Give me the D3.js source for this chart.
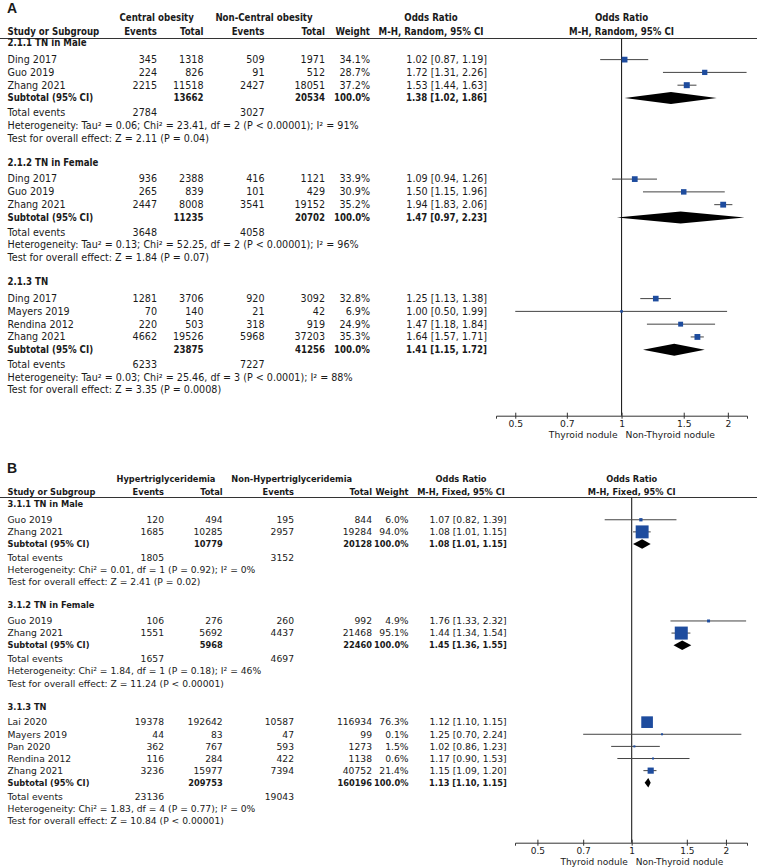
<!DOCTYPE html>
<html><head><meta charset="utf-8">
<script src="https://cdn.jsdelivr.net/npm/d3@7"></script>
<style>
body{margin:0;background:#fff}
svg text{font-family:"DejaVu Sans",sans-serif;fill:#1a1a1a}
svg text.b{font-family:"DejaVu Sans Condensed","DejaVu Sans",sans-serif;font-weight:bold}
</style>
</head><body>
<svg id="chart" width="757" height="867"></svg>
<script>
// ---------------- DATA ----------------
const tickValues = [0.5, 0.7, 1, 1.5, 2];
const directionLabels = ["Thyroid nodule", "Non-Thyroid nodule"];

// Panel A: Central obesity vs Non-Central obesity (M-H, Random)
const A_groupNames = ["2.1.1 TN in Male", "2.1.2 TN in Female", "2.1.3 TN"];
// [study, events1, total1, events2, total2, weight, OR, lower, upper]
const A_male = [
  ["Ding 2017", 345, 1318, 509, 1971, 34.1, 1.02, 0.87, 1.19],
  ["Guo 2019", 224, 826, 91, 512, 28.7, 1.72, 1.31, 2.26],
  ["Zhang 2021", 2215, 11518, 2427, 18051, 37.2, 1.53, 1.44, 1.63]
];
const A_female = [
  ["Ding 2017", 936, 2388, 416, 1121, 33.9, 1.09, 0.94, 1.26],
  ["Guo 2019", 265, 839, 101, 429, 30.9, 1.50, 1.15, 1.96],
  ["Zhang 2021", 2447, 8008, 3541, 19152, 35.2, 1.94, 1.83, 2.06]
];
const A_tn = [
  ["Ding 2017", 1281, 3706, 920, 3092, 32.8, 1.25, 1.13, 1.38],
  ["Mayers 2019", 70, 140, 21, 42, 6.9, 1.00, 0.50, 1.99],
  ["Rendina 2012", 220, 503, 318, 919, 24.9, 1.47, 1.18, 1.84],
  ["Zhang 2021", 4662, 19526, 5968, 37203, 35.3, 1.64, 1.57, 1.71]
];
// [total1, total2, OR, lower, upper]
const A_subtotals = [
  [13662, 20534, 1.38, 1.02, 1.86],
  [11235, 20702, 1.47, 0.97, 2.23],
  [23875, 41256, 1.41, 1.15, 1.72]
];
const A_totalEvents = [[2784, 3027], [3648, 4058], [6233, 7227]];
const A_heterogeneity = [
  "Heterogeneity: Tau² = 0.06; Chi² = 23.41, df = 2 (P < 0.00001); I² = 91%",
  "Heterogeneity: Tau² = 0.13; Chi² = 52.25, df = 2 (P < 0.00001); I² = 96%",
  "Heterogeneity: Tau² = 0.03; Chi² = 25.46, df = 3 (P < 0.0001); I² = 88%"
];
const A_overall = [
  "Test for overall effect: Z = 2.11 (P = 0.04)",
  "Test for overall effect: Z = 1.84 (P = 0.07)",
  "Test for overall effect: Z = 3.35 (P = 0.0008)"
];

// Panel B: Hypertriglyceridemia vs Non-Hypertriglyceridemia (M-H, Fixed)
const B_groupNames = ["3.1.1 TN in Male", "3.1.2 TN in Female", "3.1.3 TN"];
const B_male = [
  ["Guo 2019", 120, 494, 195, 844, 6.0, 1.07, 0.82, 1.39],
  ["Zhang 2021", 1685, 10285, 2957, 19284, 94.0, 1.08, 1.01, 1.15]
];
const B_female = [
  ["Guo 2019", 106, 276, 260, 992, 4.9, 1.76, 1.33, 2.32],
  ["Zhang 2021", 1551, 5692, 4437, 21468, 95.1, 1.44, 1.34, 1.54]
];
const B_tn = [
  ["Lai 2020", 19378, 192642, 10587, 116934, 76.3, 1.12, 1.10, 1.15],
  ["Mayers 2019", 44, 83, 47, 99, 0.1, 1.25, 0.70, 2.24],
  ["Pan 2020", 362, 767, 593, 1273, 1.5, 1.02, 0.86, 1.23],
  ["Rendina 2012", 116, 284, 422, 1138, 0.6, 1.17, 0.90, 1.53],
  ["Zhang 2021", 3236, 15977, 7394, 40752, 21.4, 1.15, 1.09, 1.20]
];
const B_subtotals = [
  [10779, 20128, 1.08, 1.01, 1.15],
  [5968, 22460, 1.45, 1.36, 1.55],
  [209753, 160196, 1.13, 1.10, 1.15]
];
const B_totalEvents = [[1805, 3152], [1657, 4697], [23136, 19043]];
const B_heterogeneity = [
  "Heterogeneity: Chi² = 0.01, df = 1 (P = 0.92); I² = 0%",
  "Heterogeneity: Chi² = 1.84, df = 1 (P = 0.18); I² = 46%",
  "Heterogeneity: Chi² = 1.83, df = 4 (P = 0.77); I² = 0%"
];
const B_overall = [
  "Test for overall effect: Z = 2.41 (P = 0.02)",
  "Test for overall effect: Z = 11.24 (P < 0.00001)",
  "Test for overall effect: Z = 10.84 (P < 0.00001)"
];

// ---------------- LAYOUT / STYLE ----------------
const panels = [
  {
    label: "A", labelY: 13, fs: 9.6, axFs: 9.2,
    groupLabels: ["Central obesity", "Non-Central obesity"],
    method: "M-H, Random, 95% CI",
    groupHeaderY: 18, colHeaderY: 32, ruleY: 38.5,
    cols: {name: 7.5, e1: 157, n1: 203.5, e2: 264.5, n2: 325, w: 370, ci: 487},
    grpCenters: [156.7, 264], orCenter: 431,
    xDomain: [0.441, 2.266], xRange: [496, 747],
    y0: 43, lineH: 12.78,
    axisY: 415.7,
    sqMax: 6, sqMaxW: 37.2, diaH: 6,
    groups: [A_male, A_female, A_tn], names: A_groupNames,
    subs: A_subtotals, tot: A_totalEvents, het: A_heterogeneity, ov: A_overall
  },
  {
    label: "B", labelY: 473, fs: 9.2, axFs: 9,
    groupLabels: ["Hypertriglyceridemia", "Non-Hypertriglyceridemia"],
    method: "M-H, Fixed, 95% CI",
    groupHeaderY: 479, colHeaderY: 491.7, ruleY: 497.5,
    cols: {name: 7.5, e1: 164, n1: 222.7, e2: 294, n2: 372, w: 408.5, ci: 506.7},
    grpCenters: [166, 291.7], orCenter: 461,
    xDomain: [0.424, 2.335], xRange: [515, 747],
    y0: 504, lineH: 12.12,
    axisY: 842.7,
    sqMax: 13, sqMaxW: 95.1, diaH: 4.7,
    groups: [B_male, B_female, B_tn], names: B_groupNames,
    subs: B_subtotals, tot: B_totalEvents, het: B_heterogeneity, ov: B_overall
  }
];

const svg = d3.select("#chart");
const fmt2 = d => d.toFixed(2);
const ciText = (o, l, h) => `${fmt2(o)} [${fmt2(l)}, ${fmt2(h)}]`;

function buildRows(p) {
  const rows = []; let line = 0;
  p.groups.forEach((studies, g) => {
    rows.push({type: "group", g, line}); line += 1.3;
    studies.forEach(s => { rows.push({type: "study", g, s, line}); line += 1; });
    rows.push({type: "sub", g, line}); line += 1.15;
    rows.push({type: "total", g, line}); line += 1;
    rows.push({type: "het", g, line}); line += 1;
    rows.push({type: "test", g, line}); line += 1.9;
  });
  return rows;
}

panels.forEach(p => {
  const G = svg.append("g").style("font-size", p.fs + "px");
  const x = d3.scaleLog().domain(p.xDomain).range(p.xRange);
  const y = d3.scaleLinear().domain([0, 1]).range([p.y0, p.y0 + p.lineH]);
  const sq = d3.scaleSqrt().domain([0, p.sqMaxW]).range([0, p.sqMax]);
  const c = p.cols;
  const txt = (xx, yy, s, anchor, bold) => G.append("text")
    .attr("class", bold ? "b" : null)
    .attr("x", xx).attr("y", yy).attr("dy", "0.35em")
    .attr("text-anchor", anchor || "start").text(s);

  // panel letter
  G.append("text").attr("x", 7).attr("y", p.labelY)
    .style("font-family", "'Liberation Sans', Arial, sans-serif")
    .style("font-size", "14px").attr("font-weight", "bold").text(p.label);

  // headers
  txt(p.grpCenters[0], p.groupHeaderY, p.groupLabels[0], "middle", true);
  txt(p.grpCenters[1], p.groupHeaderY, p.groupLabels[1], "middle", true);
  txt(p.orCenter, p.groupHeaderY, "Odds Ratio", "middle", true);
  txt(x(1), p.groupHeaderY, "Odds Ratio", "middle", true);
  txt(c.name, p.colHeaderY, "Study or Subgroup", "start", true);
  txt(c.e1, p.colHeaderY, "Events", "end", true);
  txt(c.n1, p.colHeaderY, "Total", "end", true);
  txt(c.e2, p.colHeaderY, "Events", "end", true);
  txt(c.n2, p.colHeaderY, "Total", "end", true);
  txt(c.w, p.colHeaderY, "Weight", "end", true);
  txt(p.orCenter, p.colHeaderY, p.method, "middle", true);
  txt(x(1), p.colHeaderY, p.method, "middle", true);
  G.append("line").attr("x1", 0).attr("x2", 757).attr("y1", p.ruleY).attr("y2", p.ruleY)
    .attr("stroke", "#333").attr("stroke-width", 1);

  // null line
  G.append("line").attr("x1", x(1)).attr("x2", x(1))
    .attr("y1", p.ruleY).attr("y2", p.axisY)
    .attr("stroke", "#222").attr("stroke-width", 1.1);

  // rows
  buildRows(p).forEach(r => {
    const yy = y(r.line);
    if (r.type === "group") txt(c.name, yy, p.names[r.g], "start", true);
    else if (r.type === "study") {
      const [name, e1, n1, e2, n2, w, o, lo, hi] = r.s;
      txt(c.name, yy, name);
      txt(c.e1, yy, e1, "end");
      txt(c.n1, yy, n1, "end");
      txt(c.e2, yy, e2, "end");
      txt(c.n2, yy, n2, "end");
      txt(c.w, yy, w.toFixed(1) + "%", "end");
      txt(c.ci, yy, ciText(o, lo, hi), "end");
      G.append("line").attr("x1", x(lo)).attr("x2", x(hi)).attr("y1", yy).attr("y2", yy)
        .attr("stroke", "#444").attr("stroke-width", 1);
      const s = Math.max(2, sq(w));
      G.append("rect").attr("x", x(o) - s / 2).attr("y", yy - s / 2)
        .attr("width", s).attr("height", s).attr("fill", "#1e4c9e");
    } else if (r.type === "sub") {
      const [n1, n2, o, lo, hi] = p.subs[r.g];
      txt(c.name, yy, "Subtotal (95% CI)", "start", true);
      txt(c.n1, yy, n1, "end", true);
      txt(c.n2, yy, n2, "end", true);
      txt(c.w, yy, "100.0%", "end", true);
      txt(c.ci, yy, ciText(o, lo, hi), "end", true);
      G.append("path")
        .attr("d", `M${x(lo)},${yy}L${x(o)},${yy - p.diaH}L${x(hi)},${yy}L${x(o)},${yy + p.diaH}Z`)
        .attr("fill", "#000");
    } else if (r.type === "total") {
      txt(c.name, yy, "Total events");
      txt(c.e1, yy, p.tot[r.g][0], "end");
      txt(c.e2, yy, p.tot[r.g][1], "end");
    } else if (r.type === "het") txt(c.name, yy, p.het[r.g]);
    else if (r.type === "test") txt(c.name, yy, p.ov[r.g]);
  });

  // axis
  const ax = G.append("g").attr("transform", `translate(0,${p.axisY})`)
    .call(d3.axisBottom(x).tickValues(tickValues).tickFormat(d => d).tickSizeOuter(0).tickSize(3));
  ax.select(".domain").attr("stroke", "#333");
  ax.selectAll(".tick line").attr("y1", -3).attr("y2", 3).attr("stroke", "#333");
  ax.selectAll(".tick text").attr("y", 8.5).attr("dy", "0.35em")
    .style("font-family", "'DejaVu Sans',sans-serif").style("font-size", p.axFs + "px").attr("fill", "#1a1a1a");
  G.append("text").attr("x", x(1) - 4).attr("y", p.axisY + 19.2).attr("dy", "0.35em")
    .attr("text-anchor", "end").style("font-size", p.axFs + "px").text(directionLabels[0]);
  G.append("text").attr("x", x(1) + 4).attr("y", p.axisY + 19.2).attr("dy", "0.35em")
    .attr("text-anchor", "start").style("font-size", p.axFs + "px").text(directionLabels[1]);
});
</script>
</body></html>
